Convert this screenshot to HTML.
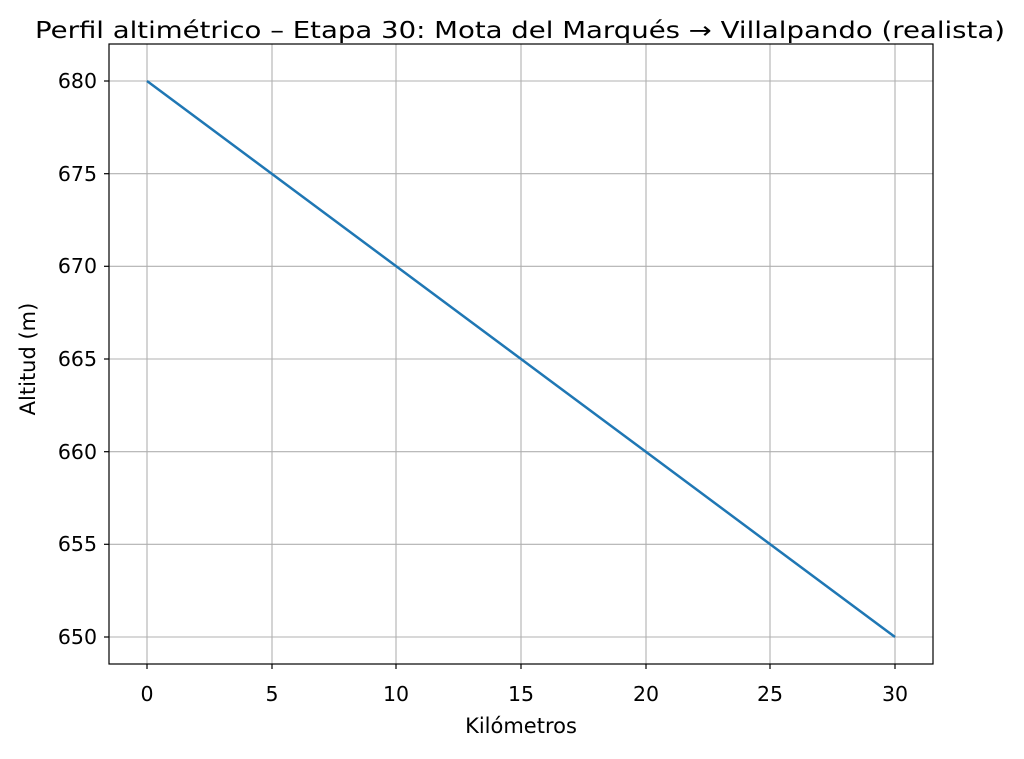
<!DOCTYPE html>
<html><head><meta charset="utf-8"><style>body{margin:0;background:#fff}</style></head>
<body>
<svg width="1024" height="754" xmlns="http://www.w3.org/2000/svg" font-family="DejaVu Sans, sans-serif">
<rect width="1024" height="754" fill="#fff"/>
<g stroke="#b0b0b0" stroke-width="1.1">
<line x1="147" y1="44" x2="147" y2="664"/><line x1="272" y1="44" x2="272" y2="664"/><line x1="396" y1="44" x2="396" y2="664"/><line x1="521" y1="44" x2="521" y2="664"/><line x1="646" y1="44" x2="646" y2="664"/><line x1="770" y1="44" x2="770" y2="664"/><line x1="895" y1="44" x2="895" y2="664"/>
<line x1="109" y1="81" x2="933" y2="81"/><line x1="109" y1="173.7" x2="933" y2="173.7"/><line x1="109" y1="266.3" x2="933" y2="266.3"/><line x1="109" y1="359" x2="933" y2="359"/><line x1="109" y1="451.7" x2="933" y2="451.7"/><line x1="109" y1="544.3" x2="933" y2="544.3"/><line x1="109" y1="637" x2="933" y2="637"/>
</g>
<line x1="147" y1="81" x2="895" y2="637" stroke="#1f77b4" stroke-width="2.5"/>
<rect x="109" y="44" width="824" height="620" fill="none" stroke="#000" stroke-width="1.2"/>
<g stroke="#000" stroke-width="1.2">
<line x1="147" y1="664" x2="147" y2="669"/><line x1="272" y1="664" x2="272" y2="669"/><line x1="396" y1="664" x2="396" y2="669"/><line x1="521" y1="664" x2="521" y2="669"/><line x1="646" y1="664" x2="646" y2="669"/><line x1="770" y1="664" x2="770" y2="669"/><line x1="895" y1="664" x2="895" y2="669"/>
<line x1="104" y1="81" x2="109" y2="81"/><line x1="104" y1="173.7" x2="109" y2="173.7"/><line x1="104" y1="266.3" x2="109" y2="266.3"/><line x1="104" y1="359" x2="109" y2="359"/><line x1="104" y1="451.7" x2="109" y2="451.7"/><line x1="104" y1="544.3" x2="109" y2="544.3"/><line x1="104" y1="637" x2="109" y2="637"/>
</g>
<g font-size="20.5" text-anchor="middle" fill="#000">
<text x="147" y="701">0</text><text x="272" y="701">5</text><text x="396" y="701">10</text><text x="521" y="701">15</text><text x="646" y="701">20</text><text x="770" y="701">25</text><text x="895" y="701">30</text>
</g>
<g font-size="20.5" text-anchor="end" fill="#000">
<text x="97" y="88">680</text><text x="97" y="181">675</text><text x="97" y="273">670</text><text x="97" y="366">665</text><text x="97" y="459">660</text><text x="97" y="551">655</text><text x="97" y="644">650</text>
</g>
<text x="521" y="733" font-size="21" text-anchor="middle">Kilómetros</text>
<text transform="translate(35,359) rotate(-90)" font-size="21" text-anchor="middle">Altitud (m)</text>
<text x="35" y="38" font-size="23" textLength="970" lengthAdjust="spacingAndGlyphs">Perfil altimétrico – Etapa 30: Mota del Marqués → Villalpando (realista)</text>
</svg>
</body></html>
